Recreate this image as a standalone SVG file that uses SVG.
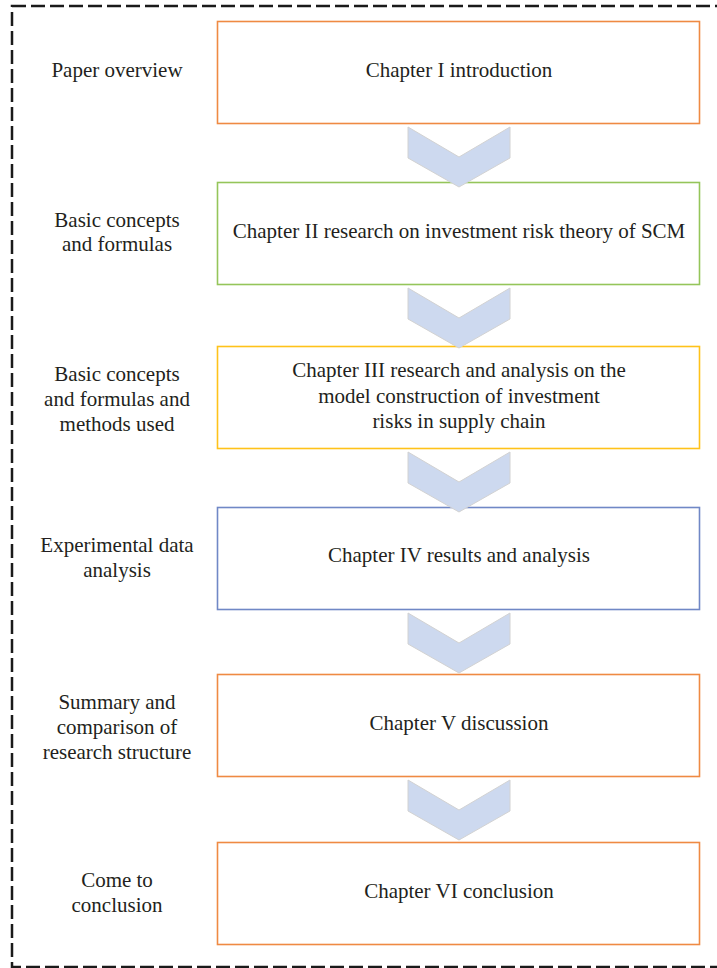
<svg xmlns="http://www.w3.org/2000/svg" width="717" height="968" viewBox="0 0 717 968">
  <style>
    .frame { fill: none; stroke: #1a1a1a; stroke-width: 2.5; stroke-dasharray: 14 5; }
    .box { fill: #ffffff; stroke-width: 1.6; }
    .orange { stroke: #ef8a43; }
    .green { stroke: #95c55a; }
    .yellow { stroke: #ffc21a; }
    .blue { stroke: #7088c6; }
    .chev { fill: #cdd9ef; stroke: #d2d2d2; stroke-width: 1; }
    text { font-family: "Liberation Serif", "Times New Roman", serif; font-size: 21px; fill: #231f20; text-anchor: middle; }
  </style>
  <defs>
    <polygon id="chevron" class="chev" points="0,0 51,30 102,0 102,31 51,60 0,31"/>
  </defs>

  <!-- dashed outer frame (right edge runs past the canvas) -->
  <rect class="frame" x="12" y="6" width="740" height="961"/>

  <!-- chapter boxes -->
  <g id="node-ch1"><rect class="box orange" x="217.5" y="21.5" width="482" height="102"/><text x="459" y="77">Chapter I introduction</text></g>
  <g id="node-ch2"><rect class="box green" x="217.5" y="182.5" width="482" height="102"/><text x="459" y="238">Chapter II research on investment risk theory of SCM</text></g>
  <g id="node-ch3"><rect class="box yellow" x="217.5" y="346.5" width="482" height="102"/>
    <text x="459" y="377">Chapter III research and analysis on the</text>
    <text x="459" y="403">model construction of investment</text>
    <text x="459" y="428">risks in supply chain</text></g>
  <g id="node-ch4"><rect class="box blue" x="217.5" y="507.5" width="482" height="102"/><text x="459" y="562">Chapter IV results and analysis</text></g>
  <g id="node-ch5"><rect class="box orange" x="217.5" y="674.5" width="482" height="102"/><text x="459" y="730">Chapter V discussion</text></g>
  <g id="node-ch6"><rect class="box orange" x="217.5" y="842.5" width="482" height="102"/><text x="459" y="898">Chapter VI conclusion</text></g>

  <!-- side labels -->
  <g id="label-1"><text x="117" y="77">Paper overview</text></g>
  <g id="label-2"><text x="117" y="227">Basic concepts</text><text x="117" y="251">and formulas</text></g>
  <g id="label-3"><text x="117" y="381">Basic concepts</text><text x="117" y="406">and formulas and</text><text x="117" y="431">methods used</text></g>
  <g id="label-4"><text x="117" y="552">Experimental data</text><text x="117" y="577">analysis</text></g>
  <g id="label-5"><text x="117" y="709">Summary and</text><text x="117" y="734">comparison of</text><text x="117" y="759">research structure</text></g>
  <g id="label-6"><text x="117" y="887">Come to</text><text x="117" y="912">conclusion</text></g>

  <!-- chevron connectors between chapters -->
  <g id="connectors">
    <use href="#chevron" x="408" y="127"/>
    <use href="#chevron" x="408" y="288"/>
    <use href="#chevron" x="408" y="452"/>
    <use href="#chevron" x="408" y="613"/>
    <use href="#chevron" x="408" y="780"/>
  </g>
</svg>
